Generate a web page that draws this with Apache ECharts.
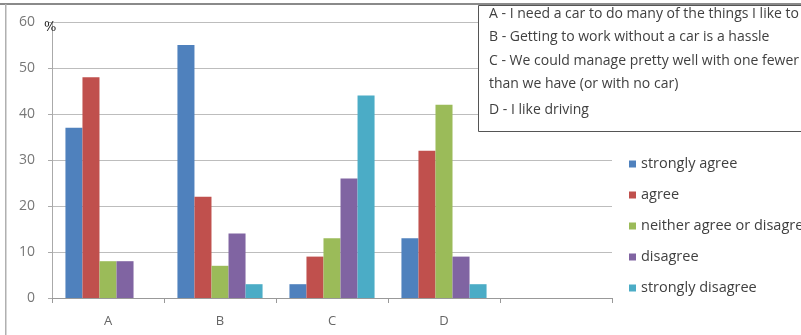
<!DOCTYPE html>
<html>
<head>
<meta charset="utf-8">
<script src="https://cdn.jsdelivr.net/npm/echarts@6/dist/echarts.min.js"></script>
<style>html,body{margin:0;padding:0;background:#fff;}#c{width:801px;height:335px;}</style>
</head>
<body>
<div id="c"></div>
<script>
var categories = ['A', 'B', 'C', 'D', ''];
var seriesNames = ['strongly agree', 'agree', 'neither agree or disagree', 'disagree', 'strongly disagree'];
var stronglyAgree = [37, 55, 3, 13, null];
var agree = [48, 22, 9, 32, null];
var neither = [8, 7, 13, 42, null];
var disagree = [8, 14, 26, 9, null];
var stronglyDisagree = [0, 3, 44, 3, null];
var yTicks = [0, 10, 20, 30, 40, 50, 60];
var noteLines = [
  'A - I need a car to do many of the things I like to do',
  'B - Getting to work without a car is a hassle',
  'C - We could manage pretty well with one fewer car',
  'than we have (or with no car)',
  'D - I like driving'
];
var colors = ['#4F81BD', '#C0504D', '#9BBB59', '#8064A2', '#4BACC6'];
var values = [stronglyAgree, agree, neither, disagree, stronglyDisagree];

var chart = echarts.init(document.getElementById('c'), null, {renderer: 'canvas'});
var series = seriesNames.map(function (n, i) {
  return {
    name: n, type: 'bar', data: values[i], barGap: '0%', barCategoryGap: '24%',
    itemStyle: {color: colors[i]}, animation: false
  };
});
var graphics = [
  {type: 'rect', shape: {x: 0, y: 3, width: 801, height: 2}, style: {fill: '#8a8a8a'}, z: 100},
  {type: 'rect', shape: {x: 5, y: 4, width: 1.5, height: 331}, style: {fill: '#b0b0b0'}, z: 100},
  {type: 'text', left: 44, top: 21, style: {text: '%', font: '13px "DejaVu Serif"', fill: '#222'}, z: 100},
  {type: 'rect', shape: {x: 478.5, y: 5.5, width: 340, height: 126}, style: {fill: '#fff', stroke: '#555', lineWidth: 1}, z: 90}
];
var lineY = [7, 30, 54, 77, 103];
noteLines.forEach(function (t, i) {
  graphics.push({type: 'text', x: 489, y: lineY[i], style: {text: t, font: '14px "Open Sans"', fill: '#404040'}, z: 101});
});
chart.setOption({
  animation: false,
  color: colors,
  grid: {left: 52, right: 189, top: 22, bottom: 37, containLabel: false},
  legend: {
    orient: 'vertical', left: 624, top: 150, itemWidth: 7, itemHeight: 7, itemGap: 13,
    icon: 'rect', data: seriesNames,
    textStyle: {color: '#404040', fontSize: 14.5, fontFamily: 'Open Sans', lineHeight: 18}
  },
  xAxis: {
    type: 'category', data: categories,
    axisLine: {lineStyle: {color: '#999'}},
    axisTick: {show: true, length: 5, inside: false, lineStyle: {color: '#999'}},
    axisLabel: {color: '#666', fontSize: 13, fontFamily: 'Open Sans', margin: 17}
  },
  yAxis: {
    type: 'value', min: 0, max: 60, interval: 10,
    axisLine: {show: true, lineStyle: {color: '#aaa'}},
    axisTick: {show: true, length: 4, lineStyle: {color: '#aaa'}},
    axisLabel: {color: '#777', fontSize: 14, fontFamily: 'Open Sans', margin: 17,
      formatter: function (v) { return yTicks.indexOf(v) >= 0 ? String(v) : ''; }},
    splitLine: {lineStyle: {color: '#bdbdbd'}}
  },
  graphic: graphics,
  series: series
});
</script>
</body>
</html>
